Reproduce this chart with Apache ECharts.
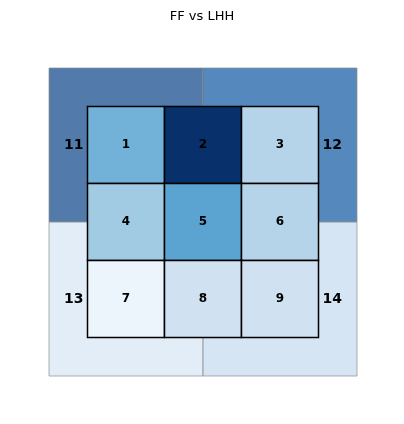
<!DOCTYPE html>
<html><head><meta charset="utf-8">
<script src="https://cdn.jsdelivr.net/npm/echarts@6/dist/echarts.min.js"></script>
<style>html,body{margin:0;padding:0;background:#fff}#c{width:404px;height:424px}</style>
</head><body><div id="c"></div>
<script>
// Outer zones (2x2) and inner zones (3x3)
const outerZones = [11, 12, 13, 14];
const outerValues = [0.93, 0.85, 0.17, 0.26];
const innerZones = [1, 2, 3, 4, 5, 6, 7, 8, 9];
const innerValues = [0.48, 1.0, 0.3, 0.37, 0.55, 0.3, 0.05, 0.2, 0.2];
const title = 'FF vs LHH';

const blues = ['#f7fbff','#deebf7','#c6dbef','#9ecae1','#6baed6','#4292c6','#2171b5','#08519c','#08306b'];
function blueAt(v){
  v = Math.max(0, Math.min(1, v));
  const p = v*(blues.length-1), i = Math.min(Math.floor(p), blues.length-2), t = p-i;
  const a = blues[i], b = blues[i+1];
  const h = (s,k)=>parseInt(s.substr(1+2*k,2),16);
  const c = [0,1,2].map(k=>Math.round(h(a,k)+(h(b,k)-h(a,k))*t));
  return 'rgb('+c.join(',')+')';
}

const outerData = outerZones.map((z,i)=>{
  const col = i%2, row = Math.floor(i/2);
  return {value:[-0.5+2*col, 3.5-2*row, -0.5+2*col+2, 3.5-2*row-2, outerValues[i], z, col]};
});
const innerData = innerZones.map((z,i)=>{
  const col = i%3, row = Math.floor(i/3);
  return {value:[col, 3-row, col+1, 2-row, innerValues[i], z]};
});

const chart = echarts.init(document.getElementById('c'), null, {renderer:'canvas'});
chart.setOption({
  animation:false,
  title:{text:title,left:'center',top:5,textStyle:{fontSize:13,fontWeight:'normal',color:'#000',fontFamily:'DejaVu Sans'}},
  grid:{left:49,top:68,width:308,height:308},
  xAxis:{type:'value',min:-0.5,max:3.5,show:false},
  yAxis:{type:'value',min:-0.5,max:3.5,show:false},
  series:[
    {
      type:'custom',
      data:outerData,
      renderItem:function(params, api){
        const p0 = api.coord([api.value(0), api.value(1)]);
        const p1 = api.coord([api.value(2), api.value(3)]);
        const col = api.value(6);
        const lx = api.coord([col===0 ? -0.18 : 3.18, 0])[0];
        const ly = (p0[1]+p1[1])/2;
        return {type:'group',children:[
          {type:'rect',shape:{x:p0[0],y:p0[1],width:p1[0]-p0[0],height:p1[1]-p0[1]},
           style:{fill:blueAt(api.value(4)),opacity:0.7,stroke:'#8c8c8c',lineWidth:1}},
          {type:'text',x:lx,y:ly,style:{text:String(api.value(5)),fill:'#000',font:'bold 14px "DejaVu Sans"',align:'center',verticalAlign:'middle'}}
        ]};
      }
    },
    {
      type:'custom',
      data:innerData,
      renderItem:function(params, api){
        const p0 = api.coord([api.value(0), api.value(1)]);
        const p1 = api.coord([api.value(2), api.value(3)]);
        return {type:'group',children:[
          {type:'rect',shape:{x:p0[0],y:p0[1],width:p1[0]-p0[0],height:p1[1]-p0[1]},
           style:{fill:blueAt(api.value(4)),stroke:'#000',lineWidth:1.5}},
          {type:'text',x:(p0[0]+p1[0])/2,y:(p0[1]+p1[1])/2,style:{text:String(api.value(5)),fill:'#000',font:'bold 12px "DejaVu Sans"',align:'center',verticalAlign:'middle'}}
        ]};
      }
    }
  ]
});
</script></body></html>
